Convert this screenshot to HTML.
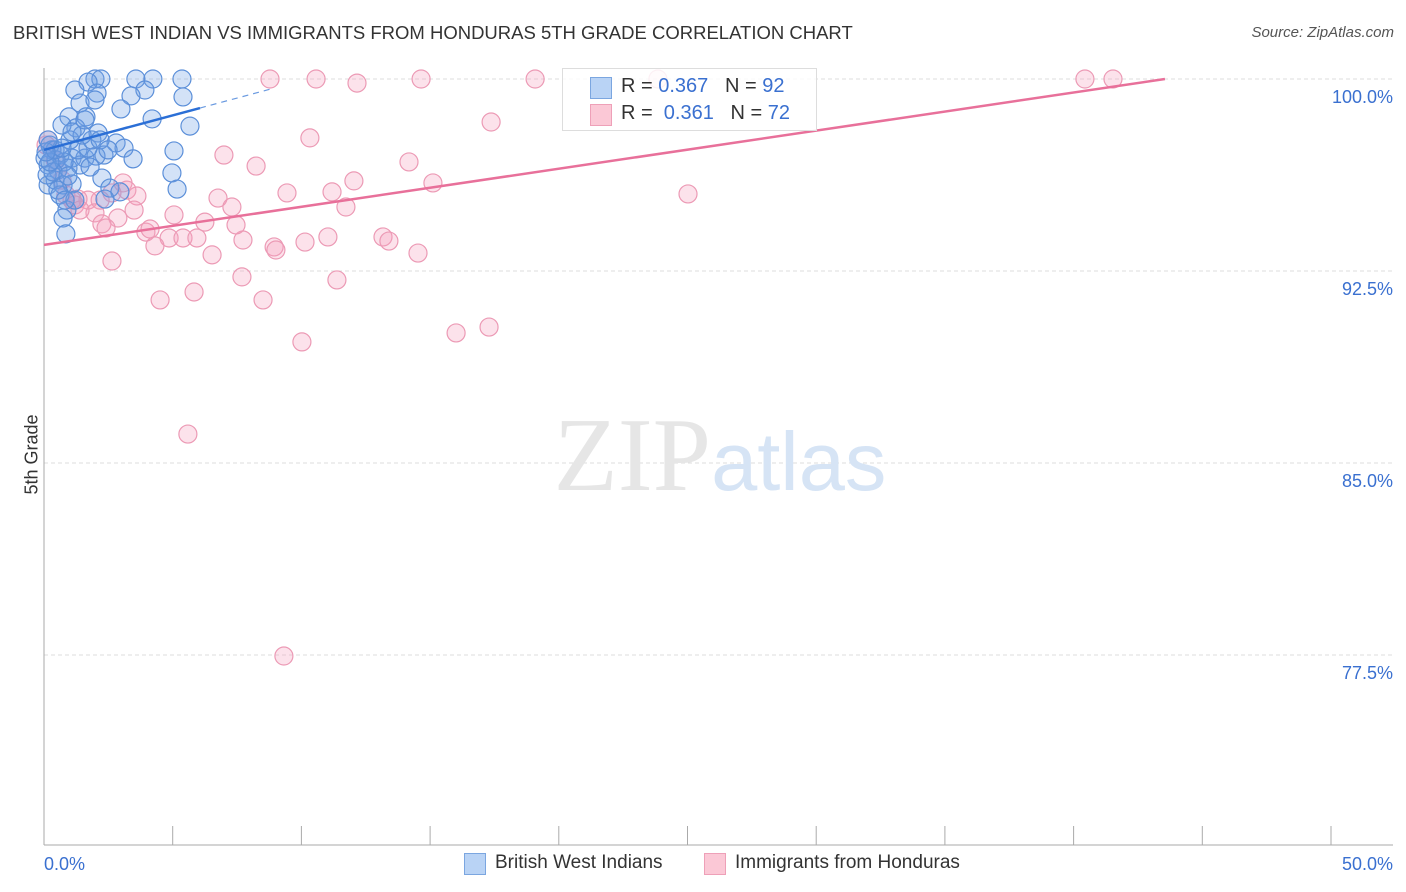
<!DOCTYPE html>
<html><head><meta charset="utf-8"><style>
body{margin:0;background:#fff;font-family:"Liberation Sans",sans-serif;}
#wrap{position:relative;width:1406px;height:892px;overflow:hidden}
.t{position:absolute;white-space:nowrap}
</style></head><body>
<div id="wrap">
<div class="t" style="left:13px;top:22px;font-size:18.5px;color:#333">BRITISH WEST INDIAN VS IMMIGRANTS FROM HONDURAS 5TH GRADE CORRELATION CHART</div>
<div class="t" style="right:12px;top:24px;font-size:15px;color:#555;font-style:italic">Source: ZipAtlas.com</div>
<div class="t" style="left:-8px;top:444px;font-size:18px;color:#333;transform:rotate(-90deg)">5th Grade</div>
<svg id="svg" width="1406" height="892" style="position:absolute;left:0;top:0"></svg>
<div style="position:absolute;left:562px;top:68px;width:253px;height:61px;border:1px solid #ddd;background:rgba(255,255,255,0.85)">
 <div style="position:absolute;left:27px;top:8px;width:20px;height:20px;background:#b9d3f5;border:1px solid #7ba6e0"></div>
 <div class="t" style="left:58px;top:6px;font-size:20px;color:#333">R = <span style="color:#3a70d0">0.367</span>&nbsp;&nbsp;&nbsp;N = <span style="color:#3a70d0">92</span></div>
 <div style="position:absolute;left:27px;top:35px;width:20px;height:20px;background:#fbc8d6;border:1px solid #eea0b8"></div>
 <div class="t" style="left:58px;top:33px;font-size:20px;color:#333">R = &nbsp;<span style="color:#3a70d0">0.361</span>&nbsp;&nbsp;&nbsp;N = <span style="color:#3a70d0">72</span></div>
</div>
<div>
 <div style="position:absolute;left:464px;top:853px;width:20px;height:20px;background:#b9d3f5;border:1px solid #7ba6e0"></div>
 <div class="t" style="left:495px;top:852px;font-size:19px;color:#333">British West Indians</div>
 <div style="position:absolute;left:704px;top:853px;width:20px;height:20px;background:#fbc8d6;border:1px solid #eea0b8"></div>
 <div class="t" style="left:735px;top:852px;font-size:19px;color:#333">Immigrants from Honduras</div>
</div>
</div>
<script>
const xTicks=[0,5,10,15,20,25,30,35,40,45,50];
const yTicks=[100,92.5,85,77.5];
const yTickLabels=["100.0%","92.5%","85.0%","77.5%"];
const blueX=[1.98,2.21,3.57,4.23,5.36,1.71,3.92,1.20,3.38,5.40,2.06,1.40,2.99,4.20,0.97,1.63,5.67,1.24,2.10,2.80,3.11,5.05,2.33,3.46,0.31,0.62,1.09,1.59,2.02,0.16,0.54,0.93,1.40,4.97,2.25,0.16,0.43,0.74,1.09,2.56,2.95,5.17,2.37,0.62,0.89,0.74,0.85,0.23,0.47,0.78,1.32,1.71,1.86,1.01,1.48,2.18,2.49,0.04,0.12,0.35,0.54,1.20,0.82,1.59,1.98,0.70,1.09,1.79,0.23,0.43,0.70,0.93,0.08,0.16];
const blueY=[100,100,100,100,100,99.88,99.57,99.57,99.34,99.3,99.45,99.06,98.83,98.44,98.52,98.52,98.16,98.09,97.89,97.5,97.3,97.19,97.03,96.88,97.23,97.03,96.91,96.91,96.99,96.64,96.45,96.52,96.64,96.33,96.13,95.86,96.05,95.86,95.9,95.74,95.59,95.7,95.31,95.47,94.88,94.57,93.95,97.42,96.84,96.76,97.23,97.3,97.62,97.62,97.81,97.62,97.23,96.91,96.25,96.37,95.66,95.27,95.27,98.4,99.18,98.2,97.93,96.56,96.76,97.23,97.3,96.21,97.15,97.62];
const pinkX=[8.78,10.57,12.16,14.65,19.08,23.85,40.44,41.53,17.37,10.33,6.99,8.24,14.18,15.11,12.04,25.02,9.44,11.19,11.73,6.76,7.30,3.07,3.22,3.61,2.64,2.18,1.71,1.32,1.98,2.87,3.50,5.05,6.25,2.25,2.41,3.96,4.12,4.86,5.40,4.31,5.94,6.53,7.73,7.46,8.94,9.01,10.14,11.03,13.17,13.40,14.53,2.64,7.69,11.38,4.51,5.83,8.51,10.02,16.01,17.29,5.59,9.32,0.16,0.31,0.54,0.70,0.85,1.09,1.20,0.43,0.08,1.40];
const pinkY=[100,100,99.84,100,100,100,100,100,98.32,97.7,97.03,96.6,96.76,95.94,96.02,95.51,95.55,95.59,95.0,95.35,95.0,95.94,95.66,95.43,95.55,95.27,95.27,95.31,94.77,94.57,94.88,94.69,94.41,94.34,94.18,94.02,94.14,93.79,93.79,93.48,93.79,93.13,93.71,94.3,93.44,93.32,93.63,93.83,93.83,93.67,93.2,92.89,92.27,92.15,91.37,91.68,91.37,89.73,90.08,90.31,86.13,77.46,97.62,97.23,96.45,96.05,95.47,95.27,95.08,96.84,97.42,94.88];
const blueTrend=[97.23,0.27];
const pinkTrend=[93.52,0.1488];

const X=v=>44+v*25.74, Y=v=>79+(100-v)*25.6;
const svg=document.getElementById('svg');
const NS='http://www.w3.org/2000/svg';
function mk(t,a){const e=document.createElementNS(NS,t);for(const k in a)e.setAttribute(k,a[k]);svg.appendChild(e);return e;}
yTicks.forEach((v,i)=>{
 const g=mk('line',{x1:44,x2:1393,y1:Y(v),y2:Y(v),stroke:'#ddd','stroke-dasharray':'4,3'});
 
 
 const t=mk('text',{x:1393,y:Y(v)+24,'text-anchor':'end','font-size':18,fill:'#3a70d0','font-family':'Liberation Sans, sans-serif'});
 t.textContent=yTickLabels[i];
 
 
});
const ax=mk('line',{x1:44,x2:44,y1:68,y2:845,stroke:'#aaa'});


const bx=mk('line',{x1:44,x2:1393,y1:845,y2:845,stroke:'#aaa'});


xTicks.forEach(v=>{
 const l=mk('line',{x1:X(v),x2:X(v),y1:826,y2:845,stroke:'#aaa'});
 
 
});
[[0,'start','0.0%'],[50,'end','50.0%']].forEach(d=>{
 const t=mk('text',{x:X(d[0])+(d[0]?62:0),y:870,'text-anchor':d[1],'font-size':18,fill:'#3a70d0','font-family':'Liberation Sans, sans-serif'});
 t.textContent=d[2];
 
 
});
const wm=mk('text',{x:720,y:490,'text-anchor':'middle','font-size':105,fill:'#e6e6e6','font-family':'Liberation Serif, serif'});
wm.innerHTML='ZIP<tspan fill="#d6e4f5" font-family="Liberation Sans, sans-serif" font-size="83">atlas</tspan>';


pinkX.forEach((x,i)=>{
 const c=mk('circle',{cx:X(x),cy:Y(pinkY[i]),r:9,fill:'rgba(244,160,188,0.3)',stroke:'#ec9ab5','stroke-width':1.2});
 
 
});
blueX.forEach((x,i)=>{
 const c=mk('circle',{cx:X(x),cy:Y(blueY[i]),r:9,fill:'rgba(110,160,230,0.3)',stroke:'#5b8fd9','stroke-width':1.2});
 
 
});
const pEnd=(100-pinkTrend[0])/pinkTrend[1];
const pl=mk('line',{x1:X(0),y1:Y(pinkTrend[0]),x2:X(pEnd),y2:Y(100),stroke:'#e8709a','stroke-width':2.5});


const bl=mk('line',{x1:X(0),y1:Y(blueTrend[0]),x2:X(6.06),y2:Y(blueTrend[0]+blueTrend[1]*6.06),stroke:'#2b6fd6','stroke-width':2.5});


const bd=mk('line',{x1:X(6.06),y1:Y(blueTrend[0]+blueTrend[1]*6.06),x2:X(8.9),y2:Y(blueTrend[0]+blueTrend[1]*8.9),stroke:'#6a9ae0','stroke-width':1.2,'stroke-dasharray':'6,5'});


</script>
</body></html>
